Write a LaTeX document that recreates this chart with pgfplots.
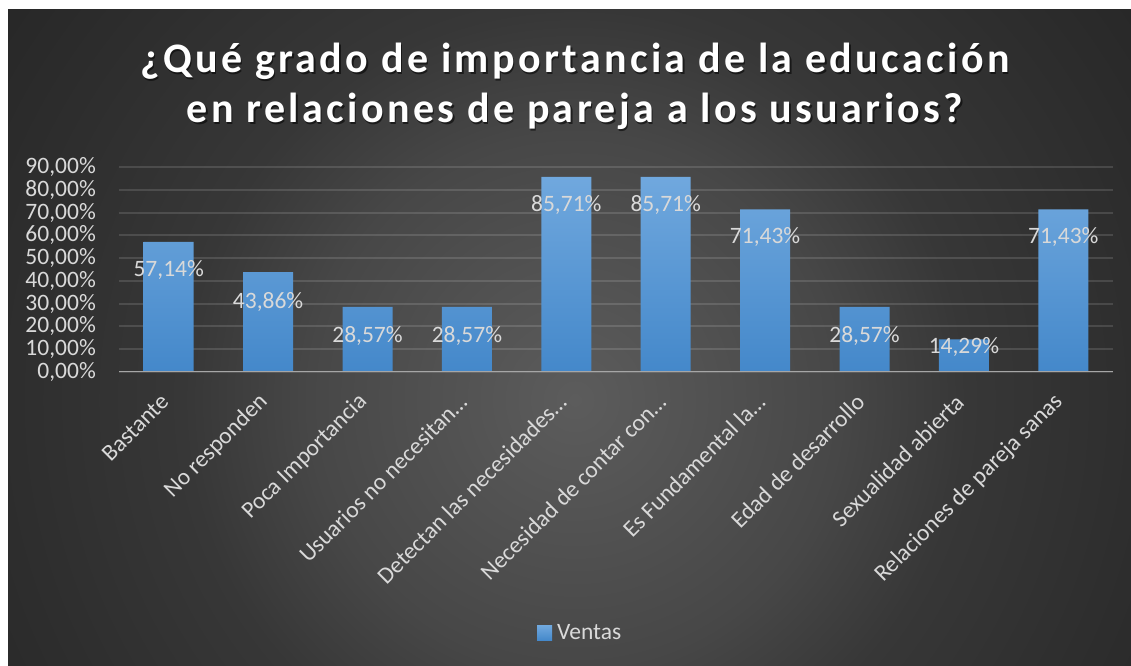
\documentclass[border=0pt]{standalone}
\usepackage{fontspec}
\setmainfont{Carlito}
\newfontfamily\titlefont[LetterSpace=8]{Carlito}
\usepackage{pgfplots}
\usepackage{pgfplotstable}
\pgfplotsset{compat=1.18}
\definecolor{bgA}{HTML}{5C5C5C}
\definecolor{bgB}{HTML}{474747}
\definecolor{bgC}{HTML}{373737}
\definecolor{bgD}{HTML}{2E2E2E}
\definecolor{bgE}{HTML}{272727}
\definecolor{barTop}{RGB}{112,168,222}
\definecolor{barBot}{RGB}{68,136,202}
\definecolor{lblgray}{HTML}{D9D9D9}
\definecolor{axisgray}{HTML}{A6A6A6}
\pgfdeclareradialshading{bgshade}{\pgfpoint{0bp}{0bp}}{color(0bp)=(bgA); color(9.5bp)=(bgB); color(14bp)=(bgC); color(20bp)=(bgD); color(25bp)=(bgE); color(50bp)=(bgE)}
\pgfplotstableread{
x y lab shift
0 0.5714 57,14 -28
1 0.4386 43,86 -30
2 0.2857 28,57 -29
3 0.2857 28,57 -29
4 0.8571 85,71 -28
5 0.8571 85,71 -28
6 0.7143 71,43 -28
7 0.2857 28,57 -29
8 0.1429 14,29 -8
9 0.7143 71,43 -28
}\datatable
\newcommand{\lblfont}{\fontsize{23.5bp}{28bp}\selectfont}
\newcommand{\ttlfont}{\titlefont\bfseries\fontsize{42bp}{50bp}\selectfont}
\begin{document}
\begin{tikzpicture}
\useasboundingbox (0bp,0bp) rectangle (1131bp,666bp);
\fill[white] (0bp,0bp) rectangle (1131bp,666bp);
\begin{scope}
\clip (8bp,0bp) rectangle (1131bp,656bp);
\shade[shading=bgshade] (-125bp,-434bp) rectangle (1275bp,966bp);
\end{scope}
% title (shadow, then text)
\node[anchor=base, font=\ttlfont, text=black, opacity=0.55, inner sep=0pt] at (576.5bp,591.5bp) {¿Qué grado de importancia de la educación};
\node[anchor=base, font=\ttlfont, text=black, opacity=0.55, inner sep=0pt] at (576.5bp,541.5bp) {en relaciones de pareja a los usuarios?};
\node[anchor=base, font=\ttlfont, text=white, inner sep=0pt] at (575bp,593bp) {¿Qué grado de importancia de la educación};
\node[anchor=base, font=\ttlfont, text=white, inner sep=0pt] at (575bp,543bp) {en relaciones de pareja a los usuarios?};
\begin{axis}[
  at={(119bp,294bp)}, anchor=south west,
  scale only axis, width=994bp, height=205bp,
  xmin=-0.5, xmax=9.5, ymin=0, ymax=0.9,
  ybar, bar width=50bp,
  axis line style={draw=none},
  tick style={draw=none},
  ymajorgrids,
  major grid style={white, opacity=0.13, line width=2bp},
  ytick={0,0.1,0.2,0.3,0.4,0.5,0.6,0.7,0.8,0.9},
  yticklabels={{0,00\%},{10,00\%},{20,00\%},{30,00\%},{40,00\%},{50,00\%},{60,00\%},{70,00\%},{80,00\%},{90,00\%}},
  yticklabel style={anchor=east, inner sep=0pt, xshift=-23bp, font=\lblfont, text=lblgray},
  xtick={0,1,2,3,4,5,6,7,8,9},
  xticklabels={Bastante,No responden,Poca Importancia,Usuarios no necesitan…,Detectan las necesidades…,Necesidad de contar con…,Es Fundamental la…,Edad de desarrollo,Sexualidad abierta,Relaciones de pareja sanas},
  xticklabel style={xshift=-4bp, yshift=-22bp, rotate=45, anchor=east, inner sep=0pt, font=\lblfont, text=lblgray},
  legend style={at={(0.464,-1.273)}, anchor=center, draw=none, fill=none, font=\lblfont, text=lblgray},
  legend image code/.code={\fill[barTop] (0bp,-7.5bp) rectangle (15bp,7.5bp);},
]
\addplot[draw=none, top color=barTop, bottom color=barBot,
  point meta=explicit symbolic,
  nodes near coords={\pgfplotspointmeta\%},
  visualization depends on={\thisrow{shift}\as\lshift},
  every node near coord/.append style={anchor=center, yshift=\lshift bp, font=\lblfont, text=lblgray, inner sep=0pt},
  ] table[x=x, y=y, meta=lab] {\datatable};
\addlegendentry{\hspace{3bp}Ventas}
\draw[axisgray, line width=2bp] (rel axis cs:0,0) -- (rel axis cs:1,0);
\end{axis}
\end{tikzpicture}
\end{document}
